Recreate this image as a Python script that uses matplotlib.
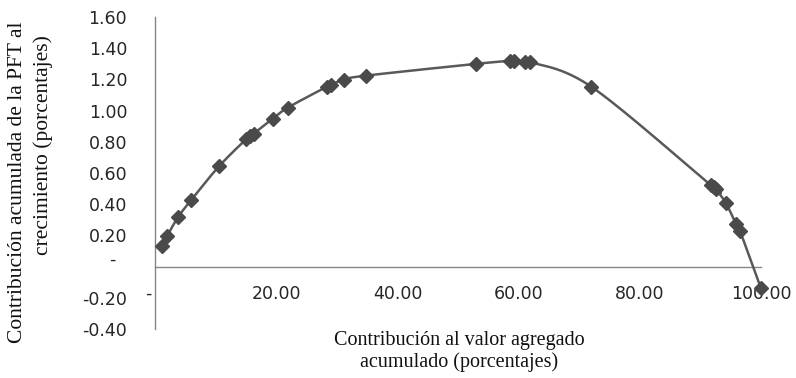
import numpy as np
import matplotlib
matplotlib.use("Agg")
import matplotlib.pyplot as plt
from matplotlib.transforms import ScaledTranslation

# ---- data ----
x_vals = [1.15, 1.98, 3.79, 5.93, 10.54, 14.99, 15.65, 16.31, 19.44, 21.91,
          28.34, 29.00, 31.14, 34.76, 53.05, 58.65, 59.30, 61.10, 61.80, 72.00,
          91.76, 92.26, 92.60, 94.23, 95.88, 96.54, 100.00]
y_vals = [0.131, 0.195, 0.316, 0.425, 0.642, 0.815, 0.834, 0.853, 0.949, 1.019,
          1.153, 1.166, 1.198, 1.224, 1.300, 1.319, 1.319, 1.313, 1.313, 1.153,
          0.521, 0.508, 0.495, 0.406, 0.272, 0.227, -0.140]
y_ticks = [-0.40, -0.20, 0.00, 0.20, 0.40, 0.60, 0.80, 1.00, 1.20, 1.40, 1.60]
y_ticklabels = ["-0.40", "-0.20", "-  ", "0.20", "0.40", "0.60", "0.80",
                "1.00", "1.20", "1.40", "1.60"]
x_ticks = [0, 20, 40, 60, 80, 100]
x_ticklabels = ["-  ", "20.00", "40.00", "60.00", "80.00", "100.00"]
x_title = ["Contribución al valor agregado", "acumulado (porcentajes)"]
y_title = ["Contribución acumulada de la PFT al", "crecimiento (porcentajes)"]

plt.rcParams["font.family"] = ["DejaVu Sans"]


def smooth(x, y, n=30):
    pts = np.column_stack([x, y]).astype(float)
    ext = np.vstack([pts[0], pts, pts[-1]])
    segs = []
    t = np.linspace(0, 1, n)[:, None]
    for i in range(len(pts) - 1):
        p0, p1, p2, p3 = ext[i], ext[i + 1], ext[i + 2], ext[i + 3]
        c1 = p1 + (p2 - p0) / 6.0
        c2 = p2 - (p3 - p1) / 6.0
        b = ((1 - t) ** 3) * p1 + 3 * ((1 - t) ** 2) * t * c1 \
            + 3 * (1 - t) * t ** 2 * c2 + t ** 3 * p2
        segs.append(b if i == 0 else b[1:])
    c = np.vstack(segs)
    return c[:, 0], c[:, 1]


W, H = 796, 378
fig = plt.figure(figsize=(W / 100, H / 100), dpi=100)
ax = fig.add_axes([155 / W, 1 - 329 / H, (761 - 155) / W, (329 - 17) / H])

sx, sy = smooth(x_vals, y_vals)
ax.plot(sx, sy, color="#595959", lw=1.8, zorder=3, clip_on=False)
ax.plot(x_vals, y_vals, linestyle="none", marker="D", markersize=7,
        color="#4a4a4a", zorder=4, clip_on=False)

ax.set_xlim(0, 100)
ax.set_ylim(-0.4, 1.6)

for s in ["top", "right"]:
    ax.spines[s].set_visible(False)
ax.spines["bottom"].set_position(("data", 0))
ax.spines["left"].set_position(("data", 0))
for s in ["bottom", "left"]:
    ax.spines[s].set_color("#868686")
    ax.spines[s].set_linewidth(1.0)

ax.set_yticks(y_ticks)
ax.set_yticklabels(y_ticklabels)
ax.set_xticks(x_ticks)
ax.set_xticklabels(x_ticklabels)
ax.tick_params(axis="y", length=0, pad=20, labelsize=12.5, labelcolor="#262626")
ax.tick_params(axis="x", length=0, pad=13.5, labelsize=12.5, labelcolor="#262626")
for lab in ax.get_xticklabels() + ax.get_yticklabels():
    lab.set_family("DejaVu Sans")

# Excel-style zero dash sits a bit higher
for lab in ax.get_yticklabels():
    if lab.get_text().strip() == "-":
        lab.set_transform(lab.get_transform() +
                          ScaledTranslation(0, 9 / 100, fig.dpi_scale_trans))

serif = ["Liberation Serif", "DejaVu Serif"]
fig.text(459 / W, 1 - 341 / H, x_title[0], ha="center", va="center",
         fontsize=14.5, family=serif, color="#111111")
fig.text(459 / W, 1 - 362 / H, x_title[1], ha="center", va="center",
         fontsize=14.5, family=serif, color="#111111")
fig.text(18 / W, 1 - 182 / H, y_title[0], ha="center", va="center",
         rotation=90, fontsize=15.5, family=serif, color="#111111")
fig.text(43 / W, 1 - 145 / H, y_title[1], ha="center", va="center",
         rotation=90, fontsize=15.5, family=serif, color="#111111")

fig.savefig("out.png", dpi=100)
